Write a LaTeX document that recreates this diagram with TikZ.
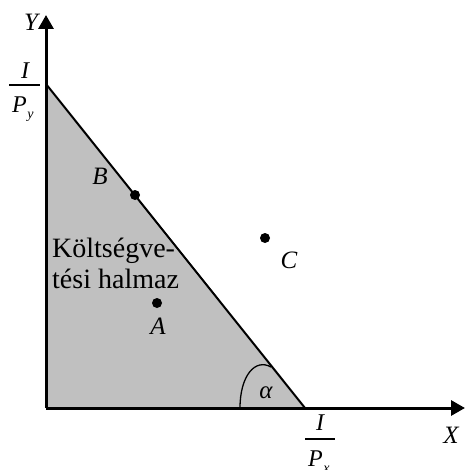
\documentclass[tikz,border=0pt]{standalone}
\usepackage{fontspec}
\setmainfont{Liberation Serif}
\usetikzlibrary{arrows.meta}
\definecolor{setgray}{RGB}{192,192,192}
\begin{document}
\begin{tikzpicture}[x=1pt,y=-1pt,
  lbl/.style={font=\fontsize{25}{29}\selectfont\itshape, inner sep=0pt},
  frac/.style={font=\fontsize{24}{28}\selectfont\itshape, inner sep=0pt},
  txt/.style={font=\fontsize{28}{31}\selectfont, inner sep=0pt, anchor=base west},
  dot/.style={circle,fill=black,inner sep=0pt,minimum size=10pt},
  axis/.style={line width=3pt,-{Triangle[length=14pt,width=15pt]}},
  sub/.style={font=\fontsize{14}{14}\selectfont\itshape}]
\useasboundingbox (0,0) rectangle (465,470);
\coordinate (O) at (46,408);
\coordinate (Ytop) at (46,15);
\coordinate (Xend) at (465,408);
\coordinate (Py) at (46,84);
\coordinate (Px) at (305,408);
\fill[setgray] (O) -- (Py) -- (Px) -- cycle;
\draw[line width=2pt] (Py) -- (Px);
\draw[axis] (O) -- (Ytop);
\draw[axis] (O) -- (Xend);
% angle arc
\coordinate (a1) at (240,408);
\coordinate (a2) at (271,367);
\draw[line width=1.3pt] (a1) .. controls (240,376) and (255,358) .. (a2);
\node[lbl] (alpha) at (266,393) {α};
% points
\node[dot] (B) at (135,195) {};
\node[dot] (C) at (265,238) {};
\node[dot] (A) at (157,303) {};
\node[lbl] (Blbl) at (100,176) {B};
\node[lbl] (Clbl) at (289,260) {C};
\node[lbl] (Albl) at (158,326) {A};
% axis labels
\node[lbl] (Ylbl) at (31,22) {Y};
\node[lbl] (Xlbl) at (451,435) {X};
% fraction I/P_y
\node[frac,anchor=base] (Iy) at (25,79) {I};
\coordinate (byl) at (9,85);
\coordinate (byr) at (40,85);
\draw[line width=1.2pt] (byl) -- (byr);
\node[frac,anchor=base west] (Pyl) at (12,113) {P};
\node[sub,anchor=base west,inner sep=0pt] (ysub) at (Pyl.base east) [yshift=-6pt] {y};
% fraction I/P_x
\node[frac,anchor=base] (Ix) at (320,430) {I};
\coordinate (bxl) at (305,439);
\coordinate (bxr) at (335,439);
\draw[line width=1.2pt] (bxl) -- (bxr);
\node[frac,anchor=base west] (Pxl) at (308,466) {P};
\node[sub,anchor=base west,inner sep=0pt] (xsub) at (Pxl.base east) [yshift=-6pt] {x};
% set text
\node[txt] (k1) at (52,257) {Költségve-};
\node[txt] (k2) at (52,288) {tési halmaz};
\end{tikzpicture}
\end{document}
